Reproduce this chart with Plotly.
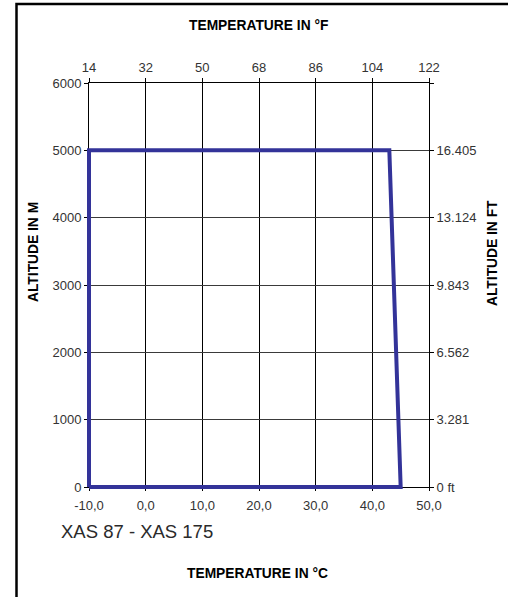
import plotly.graph_objects as go

# ---- data ----
temp_c = [-10, -10, 43, 45, -10]
alt_m = [0, 5000, 5000, 0, 0]

c_ticks = [-10, 0, 10, 20, 30, 40, 50]
c_labels = ["-10,0", "0,0", "10,0", "20,0", "30,0", "40,0", "50,0"]
f_ticks = [14, 32, 50, 68, 86, 104, 122]
f_labels = ["14", "32", "50", "68", "86", "104", "122"]
m_ticks = [0, 1000, 2000, 3000, 4000, 5000, 6000]
m_labels = ["0", "1000", "2000", "3000", "4000", "5000", "6000"]
ft_labels = ["0 ft", "3.281", "6.562", "9.843", "13.124", "16.405", ""]

# ---- geometry ----
W, H = 508, 597
PX0, PX1, PY0, PY1 = 89, 429, 83, 487  # plot box in pixels
PAD = 4
pl, pr = PX0 - PAD, PX1 + PAD
pt, pb = PY0 - PAD, PY1 + PAD
pw, ph = pr - pl, pb - pt

c_min, c_max = c_ticks[0], c_ticks[-1]
m_min, m_max = m_ticks[0], m_ticks[-1]
cpp = (c_max - c_min) / (PX1 - PX0)
mpp = (m_max - m_min) / (PY1 - PY0)

xdom = [PAD / pw, 1 - PAD / pw]
ydom = [PAD / ph, 1 - PAD / ph]

FONT = "Liberation Sans, Arial, sans-serif"
tickfont = dict(family=FONT, size=13, color="#333333")

fig = go.Figure()
# invisible helper traces so the axes exist
fig.add_trace(go.Scatter(x=c_ticks, y=m_ticks, xaxis="x", yaxis="y", mode="none",
                         hoverinfo="skip", showlegend=False))
fig.add_trace(go.Scatter(x=f_ticks, y=m_ticks, xaxis="x2", yaxis="y2", mode="none",
                         hoverinfo="skip", showlegend=False))
# the envelope
fig.add_trace(go.Scatter(x=temp_c, y=alt_m, xaxis="x3", yaxis="y3", mode="lines",
                         line=dict(color="#333399", width=4), showlegend=False))

axis_common = dict(showline=True, linecolor="#000000", linewidth=1, zeroline=False,
                   ticks="outside", ticklen=4, tickcolor="#000000", tickfont=tickfont)

fig.update_layout(
    width=W, height=H,
    margin=dict(l=pl, r=W - pr, t=pt, b=H - pb, pad=0),
    paper_bgcolor="white", plot_bgcolor="rgba(0,0,0,0)",
    showlegend=False,
    xaxis=dict(domain=xdom, range=[c_min, c_max], tickvals=c_ticks, ticktext=c_labels,
               showgrid=True, gridcolor="#000000", gridwidth=1, anchor="y", side="bottom",
               ticklabelstandoff=3, **{**axis_common, "ticklen": 3}),
    xaxis2=dict(range=[f_ticks[0], f_ticks[-1]], tickvals=f_ticks, ticktext=f_labels,
                overlaying="x", side="top", anchor="y", showgrid=False,
                ticklabelstandoff=1, **axis_common),
    yaxis=dict(domain=ydom, range=[m_min, m_max], tickvals=m_ticks, ticktext=m_labels,
               showgrid=True, gridcolor="#3a3a3a", gridwidth=1, anchor="x", side="left",
               **axis_common),
    yaxis2=dict(range=[m_min, m_max], tickvals=m_ticks, ticktext=ft_labels,
                overlaying="y", side="right", anchor="x", showgrid=False, **axis_common),
    xaxis3=dict(domain=[0, 1], range=[c_min - PAD * cpp, c_max + PAD * cpp], anchor="y3",
                visible=False, fixedrange=True),
    yaxis3=dict(domain=[0, 1], range=[m_min - PAD * mpp, m_max + PAD * mpp], anchor="x3",
                visible=False, fixedrange=True),
)

def px(x):
    return (x - pl) / pw

def py(y):
    return (pb - y) / ph

title_font = dict(family=FONT, size=13.8, color="#000000", weight="bold")
ann = [
    dict(text="TEMPERATURE IN °F", x=px(258), y=py(26), font=title_font),
    dict(text="TEMPERATURE IN °C", x=px(257), y=py(573), font=title_font),
    dict(text="ALTITUDE IN M", x=px(33), y=py(252), font=title_font, textangle=-90),
    dict(text="ALTITUDE IN FT", x=px(492), y=py(253), font=title_font, textangle=-90),
    dict(text="XAS 87 - XAS 175", x=px(59), y=py(531), xanchor="left",
         font=dict(family=FONT, size=18.5, color="#2a2a2a")),
]
for a in ann:
    a.setdefault("xanchor", "center")
    fig.add_annotation(xref="paper", yref="paper", yanchor="middle", showarrow=False, **a)

# frame lines (top and left) as one open path
x_l, x_r = px(16.5), px(W)
y_t, y_b = py(4), py(H)
fig.add_shape(type="path", xref="paper", yref="paper",
              path=f"M {x_r} {y_t} L {x_l} {y_t} L {x_l} {y_b}",
              line=dict(color="#000000", width=2.5))

fig.write_html(
    "out.html",
    config={"displayModeBar": False},
    post_script=(
        "document.documentElement.style.margin='0';"
        "document.documentElement.style.overflow='hidden';"
        "document.body.style.margin='0';"
        "document.body.style.overflow='hidden';"
    ),
)
